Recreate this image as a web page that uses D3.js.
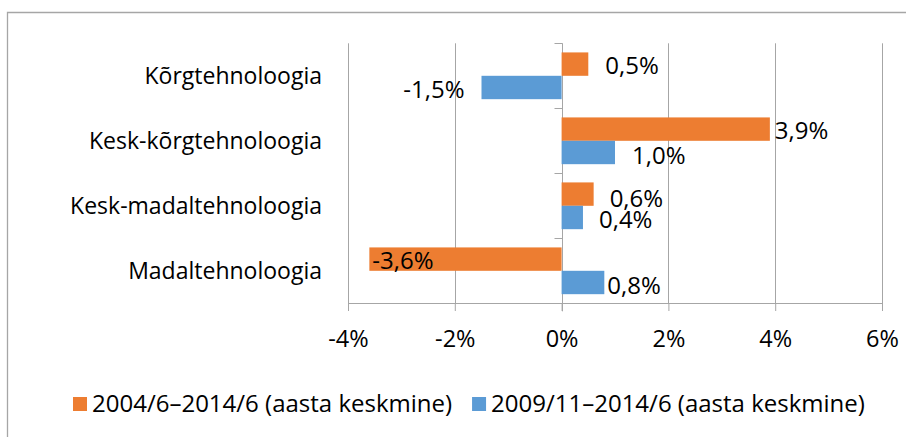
<!DOCTYPE html>
<html>
<head>
<meta charset="utf-8">
<script src="https://cdnjs.cloudflare.com/ajax/libs/d3/7.8.5/d3.min.js"></script>
<style>
  body { margin: 0; background: #fff; }
  text { font-family: "Open Sans", Lato, sans-serif; fill: #000; }
</style>
</head>
<body>
<div id="chart"></div>
<script>
// data
var categories = ["Kõrgtehnoloogia", "Kesk-kõrgtehnoloogia", "Kesk-madaltehnoloogia", "Madaltehnoloogia"];
var seriesNames = ["2004/6–2014/6 (aasta keskmine)", "2009/11–2014/6 (aasta keskmine)"];
var values2004 = [0.5, 3.9, 0.6, -3.6];
var values2009 = [-1.5, 1.0, 0.4, 0.8];
var xTicks = [-4, -2, 0, 2, 4, 6];

var colors = ["#ED7D31", "#5B9BD5"];
var width = 906, height = 437;
var fontFamily = "'Open Sans', Lato, sans-serif";

var svg = d3.select("#chart").append("svg")
  .attr("width", width).attr("height", height);

// outer frame (only top and left edges are visible in the reference)
svg.append("path")
  .attr("d", "M7.5," + height + "V12.5H" + width)
  .attr("fill", "none").attr("stroke", "#a6a6a6").attr("stroke-width", 1.3);

var x = d3.scaleLinear().domain([-4, 6]).range([348, 882]);
var y = d3.scaleBand().domain(categories).range([43.3, 303.3]);
var inner = d3.scaleBand().domain([0, 1]).range([0, y.bandwidth()])
  .paddingInner(0).paddingOuter(0.39);

var grid = "#a6a6a6";

// vertical gridlines
svg.append("g").selectAll("line").data(xTicks.filter(function(d) { return d !== 0; }))
  .enter().append("line")
  .attr("x1", function(d) { return Math.round(x(d)) + 0.5; })
  .attr("x2", function(d) { return Math.round(x(d)) + 0.5; })
  .attr("y1", y.range()[0]).attr("y2", y.range()[1])
  .attr("stroke", grid);

// bottom axis
var xAxis = d3.axisBottom(x).tickValues(xTicks).tickSize(8).tickSizeOuter(0)
  .tickFormat(function(d) { return d + "%"; });
var gx = svg.append("g")
  .attr("transform", "translate(0," + Math.round(y.range()[1]) + ")")
  .call(xAxis);
gx.select(".domain").attr("stroke", grid);
gx.selectAll(".tick line").attr("stroke", grid);
gx.selectAll(".tick text")
  .attr("y", 36).attr("dy", "0.35em")
  .style("font-size", "23.5px")
  .style("font-family", fontFamily)
  .attr("fill", "#000");

// zero axis with category ticks pointing left
var gy = svg.append("g")
  .attr("transform", "translate(" + (Math.round(x(0)) + 0.5) + ",0)");
gy.append("line")
  .attr("y1", y.range()[0]).attr("y2", y.range()[1] + 8)
  .attr("stroke", grid);
var bounds = categories.map(function(c) { return y(c); }).concat([y.range()[1]]);
gy.selectAll("line.ct").data(bounds).enter().append("line")
  .attr("class", "ct")
  .attr("x1", -8).attr("x2", 0)
  .attr("y1", function(d) { return Math.round(d) + 0.5; })
  .attr("y2", function(d) { return Math.round(d) + 0.5; })
  .attr("stroke", grid);

// category labels
svg.append("g").selectAll("text").data(categories).enter().append("text")
  .attr("x", 322)
  .attr("y", function(d) { return y(d) + y.bandwidth() / 2; })
  .attr("dy", "0.35em")
  .attr("text-anchor", "end")
  .style("font-size", "23px")
  .text(function(d) { return d; });

// bars
var rows = [];
categories.forEach(function(c, i) {
  rows.push({ cat: c, s: 0, v: values2004[i] });
  rows.push({ cat: c, s: 1, v: values2009[i] });
});

svg.append("g").selectAll("rect").data(rows).enter().append("rect")
  .attr("x", function(d) { return x(Math.min(0, d.v)); })
  .attr("width", function(d) { return Math.abs(x(d.v) - x(0)); })
  .attr("y", function(d) { return y(d.cat) + inner(d.s); })
  .attr("height", inner.bandwidth())
  .attr("fill", function(d) { return colors[d.s]; });

// value labels, nudged like the hand-placed labels of the original
var nudge = {
  "Kõrgtehnoloogia0": [17, 1], "Kõrgtehnoloogia1": [-17, 2],
  "Kesk-kõrgtehnoloogia0": [5, 1], "Kesk-kõrgtehnoloogia1": [17, 3],
  "Kesk-madaltehnoloogia0": [16, 4], "Kesk-madaltehnoloogia1": [16, 2],
  "Madaltehnoloogia0": [3, 1], "Madaltehnoloogia1": [3, 3]
};
function inside(d) { return d.cat === "Madaltehnoloogia" && d.s === 0; }
svg.append("g").selectAll("text").data(rows).enter().append("text")
  .attr("x", function(d) { return x(d.v) + nudge[d.cat + d.s][0]; })
  .attr("y", function(d) { return y(d.cat) + inner(d.s) + inner.bandwidth() / 2 + nudge[d.cat + d.s][1]; })
  .attr("dy", "0.35em")
  .attr("text-anchor", function(d) { return (d.v < 0 && !inside(d)) ? "end" : "start"; })
  .style("font-size", "24px")
  .text(function(d) { return d3.format(".1f")(d.v).replace("−", "-").replace(".", ",") + "%"; });

// legend
var legend = svg.append("g");
var lx = 73, ly = 404;
seriesNames.forEach(function(name, i) {
  legend.append("rect")
    .attr("x", lx).attr("y", ly - 7).attr("width", 14).attr("height", 14)
    .attr("fill", colors[i]);
  var t = legend.append("text")
    .attr("x", lx + 19).attr("y", ly).attr("dy", "0.35em")
    .style("font-size", "24px")
    .text(name);
  lx = lx + 19 + t.node().getComputedTextLength() + 20;
});
</script>
</body>
</html>
